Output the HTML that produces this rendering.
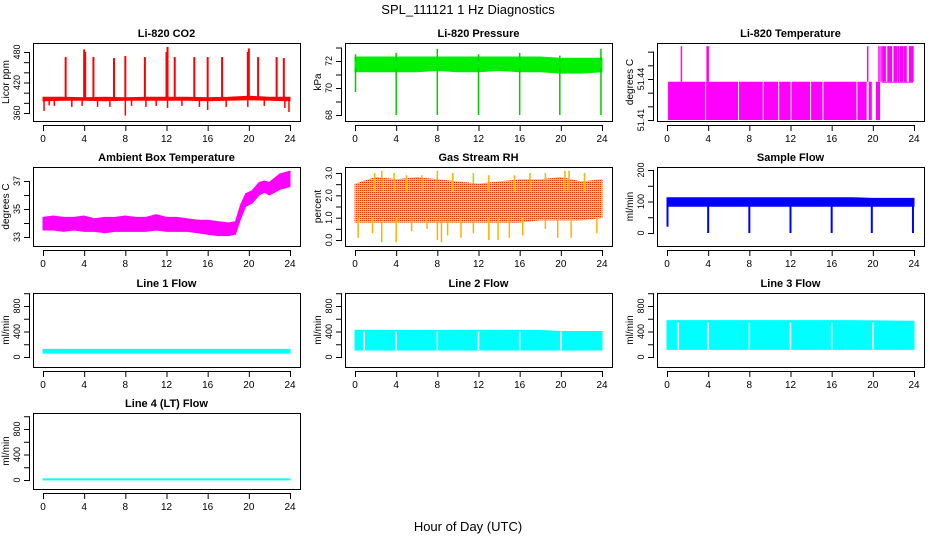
<!DOCTYPE html>
<html><head><meta charset="utf-8">
<style>
html,body{margin:0;padding:0;background:#fff;}
svg{display:block;font-family:"Liberation Sans",Arial,sans-serif;}
</style></head>
<body>
<svg id="chart" width="936" height="540" viewBox="0 0 936 540">
<defs>
<pattern id="rhpat" width="2" height="2" patternUnits="userSpaceOnUse">
<rect width="2" height="2" fill="#ffcc00"/>
<rect width="1" height="1" fill="#ff3000"/>
</pattern>
</defs>
<text x="468" y="14" text-anchor="middle" font-size="13">SPL_111121  1 Hz Diagnostics</text>
<text x="468" y="531" text-anchor="middle" font-size="13">Hour of Day (UTC)</text>
</svg>
<script>
// ---------- data ----------
const xTicks = [0,4,8,12,16,20,24];

const co2Hours = [0,2,4,6,8,10,12,14,16,18,20,22,24];
const co2Lo = [384,385,385,384,385,385,385,385,384,385,386,385,384];
const co2Hi = [391,391,390,391,390,391,391,391,390,391,393,391,391];
const co2SpikeX = [2.2,4.0,4.1,4.9,6.9,8.0,9.9,12.0,12.1,12.8,14.7,16.0,17.4,19.9,20.0,20.9,22.7,23.4];
const co2SpikeY = [470,485,480,470,468,472,470,480,490,470,470,470,470,480,487,470,470,468];
const co2DipX = [0.1,0.6,1.1,2.8,3.8,5.3,6.5,8.0,8.6,10.0,11.0,12.1,13.5,15.2,16.0,17.8,19.9,21.5,23.5,23.9];
const co2DipY = [364,375,374,372,374,372,372,355,374,372,374,370,374,372,366,372,372,374,370,362];

const presHours = [0,2,4,6,8,10,12,14,16,18,20,22,24];
const presLo = [71.2,71.2,71.2,71.2,71.3,71.2,71.2,71.3,71.2,71.2,71.1,71.1,71.2];
const presHi = [72.3,72.3,72.3,72.3,72.3,72.3,72.3,72.3,72.3,72.3,72.2,72.2,72.2];
const presDipX = [0.05,4.0,8.0,12.0,16.0,19.9,23.9];
const presDipY = [69.7,68.0,68.0,68.0,68.0,68.0,68.0];
const presUpY = [72.5,72.6,72.9,72.5,72.6,72.4,72.9];

const tempSegStart = [0.1,3.8,7.0,9.4,10.9,12.1,14.0,15.2,18.5,19.6,20.3,20.9];
const tempSegEnd   = [3.7,6.9,9.3,10.8,12.0,13.9,15.1,18.4,19.4,19.9,20.7,23.9];
const tempSegHi    = [51.438,51.438,51.438,51.438,51.438,51.438,51.438,51.438,51.438,51.438,51.438,51.438];
const tempSegLo    = [51.41,51.41,51.41,51.41,51.41,51.41,51.41,51.41,51.41,51.41,51.41,51.438];
const tempSpikeX = [1.4,3.9,4.0,19.5,20.6,20.8,21.2,21.5,21.8,22.1,22.5,22.9,23.2,23.6,23.9];
const tempSpikeY = [51.464,51.464,51.464,51.464,51.464,51.464,51.464,51.464,51.464,51.464,51.464,51.464,51.464,51.464,51.464];
const tempUpStart = [20.9,21.4,22.0,22.6,23.0,23.5];
const tempUpEnd   = [21.2,21.8,22.4,22.9,23.3,23.9];

const ambHours = [0,1,2,3,4,5,6,7,8,9,10,11,12,13,14,15,16,17,18,18.7,19.2,19.7,20.3,21,21.5,22,23,24];
const ambLo = [33.5,33.5,33.4,33.5,33.4,33.4,33.3,33.4,33.4,33.4,33.4,33.5,33.4,33.4,33.4,33.3,33.2,33.1,33.1,33.2,34.3,35.2,35.4,36.0,36.2,36.0,36.4,36.6];
const ambHi = [34.4,34.5,34.4,34.4,34.5,34.3,34.4,34.4,34.5,34.4,34.4,34.6,34.4,34.4,34.3,34.2,34.2,34.1,34.0,34.1,35.3,36.1,36.3,36.9,37.0,36.9,37.5,37.7];

const rhHours = [0,2,4,6,8,10,12,14,16,18,20,22,24];
const rhLo = [0.8,0.8,0.8,0.8,0.8,0.8,0.8,0.8,0.8,0.9,0.9,0.9,1.0];
const rhHi = [2.5,2.8,2.7,2.8,2.7,2.6,2.5,2.6,2.7,2.7,2.8,2.6,2.7];
const rhSpikeX = [1.9,2.6,3.8,5.0,6.5,8.0,9.5,11.5,13.0,15.5,17.0,18.5,20.4,20.8,22.3];
const rhSpikeY = [3.0,3.1,3.0,2.9,2.9,3.1,3.0,3.0,2.9,2.9,3.0,3.0,3.1,3.1,3.0];
const rhDipX = [0.3,1.7,2.6,4.0,5.5,7.0,8.0,8.4,9.0,10.3,11.5,13.0,13.9,15.0,16.3,18.5,19.7,21.0,23.5];
const rhDipY = [0.1,0.3,-0.1,-0.1,0.4,0.5,0.0,-0.1,0.2,0.1,0.3,0.0,0.0,0.1,0.2,0.5,0.1,0.1,0.3];

const sfHours = [0,2,4,6,8,10,12,14,16,18,20,22,24];
const sfLo = [85,85,85,85,85,85,85,85,85,85,85,85,85];
const sfHi = [112,112,112,112,112,112,112,112,112,112,110,110,110];
const sfDipX = [0.05,4.0,8.0,12.0,16.0,19.9,23.9];
const sfDipY = [20,0,0,0,0,0,0];

const l1Hours = [0,6,12,18,24];
const l1Lo = [60,60,60,60,60];
const l1Hi = [120,120,120,120,120];
const l2Hours = [0,6,12,18,20,24];
const l2Lo = [110,110,110,110,110,110];
const l2Hi = [420,415,420,415,400,400];
const l2GapX = [0.9,4.0,8.0,12.0,16.0,20.0];
const l3Hours = [0,6,12,18,24];
const l3Lo = [120,120,120,120,120];
const l3Hi = [570,570,570,570,560];
const l3GapX = [1.1,4.0,8.0,12.0,16.0,20.0];
const l4Hours = [0,12,24];
const l4Lo = [2,2,2];
const l4Hi = [18,18,18];

// ---------- layout ----------
const NS = 'http://www.w3.org/2000/svg';
const svg = document.getElementById('chart');
const colLeft = [33,345,657];
const boxW = 267;
const rowTop = [43,167,293,413];
const rowBot = [121,246,367,489];

function mk(tag, attrs, parent){
  const e = document.createElementNS(NS, tag);
  for (const k in attrs) e.setAttribute(k, attrs[k]);
  (parent||svg).appendChild(e);
  return e;
}

function makePanel(col,row,title,ylab,v1,p1,v2,p2,yTicks,yLabels,name){
  const g = mk('g',{});
  
  
  const L = colLeft[col], T = rowTop[row], B = rowBot[row];
  const xs = h => L + 10 + h*(247/24);
  const ys = v => p1 + (v - v1)*(p2 - p1)/(v2 - v1);
  const t = mk('text',{x:L+boxW/2,y:T-6,'text-anchor':'middle','font-size':'11','font-weight':'bold'},g);
  t.textContent = title;
  
  
  const plot = mk('g',{},g);
  
  
  const axes = mk('g',{stroke:'#000','stroke-width':'1',fill:'none'},g);
  
  
  mk('rect',{x:L+0.5,y:T+0.5,width:boxW,height:B-T},axes);
  mk('line',{x1:xs(0),x2:xs(24),y1:B+4.5,y2:B+4.5},axes);
  xTicks.forEach(h=>{
    mk('line',{x1:xs(h)+0.5,x2:xs(h)+0.5,y1:B+4,y2:B+10},axes);
    const lt = mk('text',{x:xs(h),y:B+21,'text-anchor':'middle','font-size':'10',fill:'#000',stroke:'none'},g);
    lt.textContent = h;
    
    
  });
  mk('line',{x1:L-3.5,x2:L-3.5,y1:ys(yTicks[0]),y2:ys(yTicks[yTicks.length-1])},axes);
  yTicks.forEach(v=>{
    mk('line',{x1:L-3,x2:L-9,y1:ys(v)+0.5,y2:ys(v)+0.5},axes);
  });
  yLabels.forEach(v=>{
    const yy = ys(+v);
    const lt = mk('text',{x:0,y:0,'text-anchor':'middle','font-size':'9',transform:`translate(${L-13},${yy}) rotate(-90)`},g);
    lt.textContent = v;
    
    
  });
  const yl = mk('text',{x:0,y:0,'text-anchor':'middle','font-size':'10',transform:`translate(${L-24},${(T+B)/2}) rotate(-90)`},g);
  yl.textContent = ylab;
  
  
  return {plot,xs,ys};
}

function band(p,hours,lo,hi,fill,name){
  let d = 'M'+hours.map((h,i)=>p.xs(h)+','+p.ys(hi[i])).join(' L');
  for (let i=hours.length-1;i>=0;i--) d += ' L'+p.xs(hours[i])+','+p.ys(lo[i]);
  const e = mk('path',{d:d+'Z',fill:fill,stroke:fill,'stroke-width':'1'},p.plot);
  
  
}
function spikes(p,xsA,ysA,base,color,w,name){
  xsA.forEach((h,i)=>{
    const e = mk('line',{x1:p.xs(h),x2:p.xs(h),y1:p.ys(base),y2:p.ys(ysA[i]),stroke:color,'stroke-width':w},p.plot);
    
    
  });
}
function gaps(p,xsA,lo,hi,name){
  xsA.forEach(h=>{
    const e = mk('line',{x1:p.xs(h),x2:p.xs(h),y1:p.ys(hi),y2:p.ys(lo),stroke:'#fff','stroke-width':'1.5'},p.plot);
    
    
  });
}

let p = makePanel(0,0,'Li-820 CO2','Licor ppm',360,113,480,52,[360,380,400,420,440,460,480],['360','420','480'],'co2');
band(p,co2Hours,co2Lo,co2Hi,'#ff0000','co2-band');
spikes(p,co2SpikeX,co2SpikeY,390,'#ff0000',2,'co2-spike');
spikes(p,co2DipX,co2DipY,385,'#ff0000',1.5,'co2-dip');

p = makePanel(1,0,'Li-820 Pressure','kPa',68,115,72,61,[68,69,70,71,72,73],['68','70','72'],'pressure');
band(p,presHours,presLo,presHi,'#00ee00','pressure-band');
spikes(p,presDipX,presDipY,71.5,'#00cc00',1.5,'pressure-dip');
spikes(p,presDipX,presUpY,72,'#00cc00',1.5,'pressure-up');

p = makePanel(2,0,'Li-820 Temperature','degrees C',51.41,120,51.44,79,[51.41,51.42,51.43,51.44,51.45,51.46],['51.41','51.44'],'li820-temp');
tempSegStart.forEach((s,i)=>{
  const e = mk('rect',{x:p.xs(s),y:p.ys(tempSegHi[i]),width:Math.max(1,p.xs(tempSegEnd[i])-p.xs(s)),height:Math.max(1,p.ys(tempSegLo[i])-p.ys(tempSegHi[i])),fill:'#ff00ff'},p.plot);
  
  
});
tempUpStart.forEach((s,i)=>{
  const e = mk('rect',{x:p.xs(s),y:p.ys(51.464),width:p.xs(tempUpEnd[i])-p.xs(s),height:p.ys(51.438)-p.ys(51.464),fill:'#ff00ff'},p.plot);
  
  
});
spikes(p,tempSpikeX,tempSpikeY,51.438,'#ff00ff',1.5,'temp-spike');

p = makePanel(0,1,'Ambient Box Temperature','degrees C',33,237,37,181,[33,34,35,36,37],['33','35','37'],'ambient-temp');
band(p,ambHours,ambLo,ambHi,'#ff00ff','ambient-band');

p = makePanel(1,1,'Gas Stream RH','percent',0,240,3,173,[0,0.5,1,1.5,2,2.5,3],['0.0','1.0','2.0','3.0'],'rh');
band(p,rhHours,rhLo,rhHi,'url(#rhpat)','rh-band');
spikes(p,rhSpikeX,rhSpikeY,2.2,'#ffb000',1.5,'rh-spike');
spikes(p,rhDipX,rhDipY,1.0,'#ffb000',1.5,'rh-dip');

p = makePanel(2,1,'Sample Flow','ml/min',0,233,200,170,[0,50,100,150,200],['0','100','200'],'sample-flow');
band(p,sfHours,sfLo,sfHi,'#0000ff','sample-band');
spikes(p,sfDipX,sfDipY,90,'#0000ff',2,'sample-dip');

p = makePanel(0,2,'Line 1 Flow','ml/min',0,357,800,306,[0,200,400,600,800,1000],['0','400','800'],'line1');
band(p,l1Hours,l1Lo,l1Hi,'#00ffff','line1-band');
p = makePanel(1,2,'Line 2 Flow','ml/min',0,357,800,306,[0,200,400,600,800,1000],['0','400','800'],'line2');
band(p,l2Hours,l2Lo,l2Hi,'#00ffff','line2-band');
gaps(p,l2GapX,110,400,'line2-gap');
p = makePanel(2,2,'Line 3 Flow','ml/min',0,357,800,306,[0,200,400,600,800,1000],['0','400','800'],'line3');
band(p,l3Hours,l3Lo,l3Hi,'#00ffff','line3-band');
gaps(p,l3GapX,120,540,'line3-gap');
p = makePanel(0,3,'Line 4 (LT) Flow','ml/min',0,480,800,429,[0,200,400,600,800,1000],['0','400','800'],'line4');
band(p,l4Hours,l4Lo,l4Hi,'#00ffff','line4-band');
</script>
</body></html>
